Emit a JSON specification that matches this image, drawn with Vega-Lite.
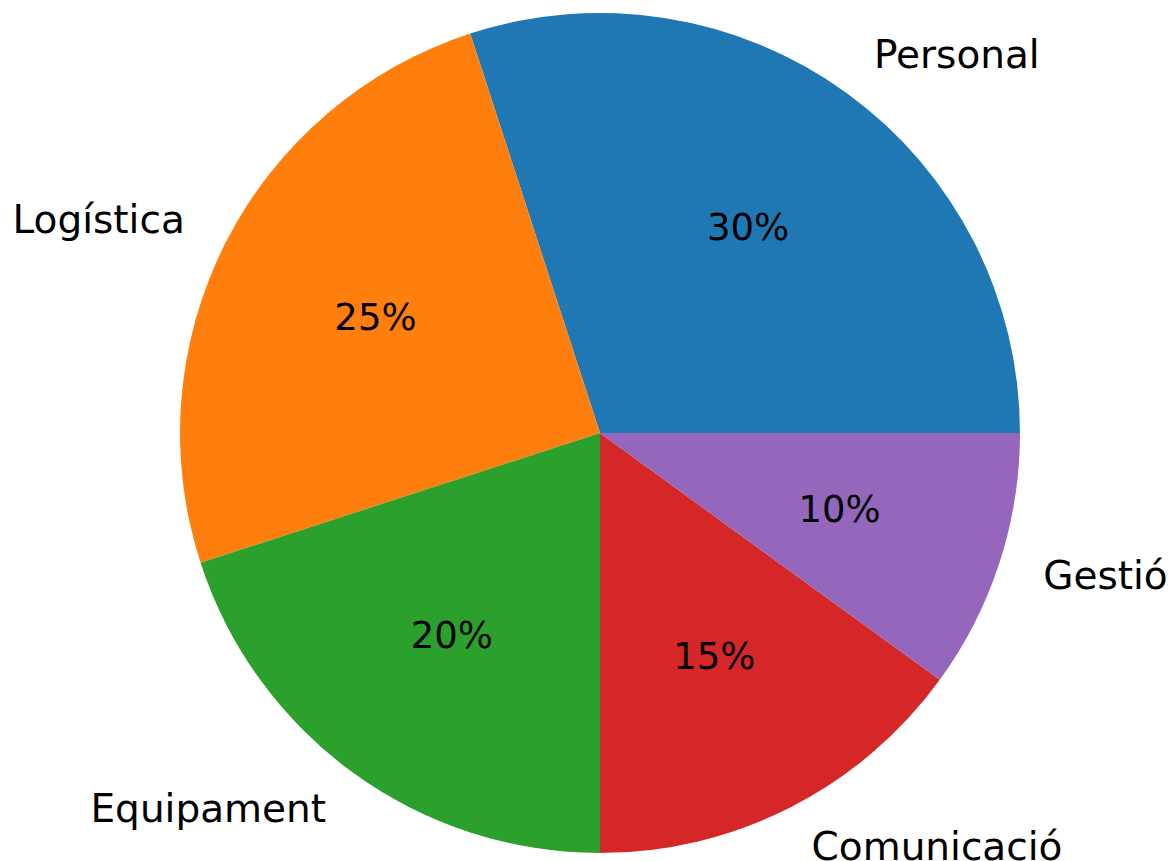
{
  "$schema": "https://vega.github.io/schema/vega-lite/v6.json",
  "width": 1152,
  "height": 856,
  "padding": {"left": 24, "top": 5, "right": 0, "bottom": 0},
  "autosize": {"type": "none"},
  "background": "white",
  "config": {"view": {"stroke": null}},
  "data": {
    "values": [
      {"category": "Personal", "value": 30, "pct": "30%", "order": 1},
      {"category": "Logística", "value": 25, "pct": "25%", "order": 2},
      {"category": "Equipament", "value": 20, "pct": "20%", "order": 3},
      {"category": "Comunicació", "value": 15, "pct": "15%", "order": 4},
      {"category": "Gestió", "value": 10, "pct": "10%", "order": 5}
    ]
  },
  "encoding": {
    "theta": {"field": "value", "type": "quantitative", "stack": true, "scale": {"range": [1.5707963, -4.712389]}},
    "order": {"field": "order", "type": "quantitative"}
  },
  "layer": [
    {
      "mark": {"type": "arc", "outerRadius": 420, "innerRadius": 0},
      "encoding": {
        "color": {
          "field": "category",
          "type": "nominal",
          "legend": null,
          "scale": {
            "domain": ["Personal", "Logística", "Equipament", "Comunicació", "Gestió"],
            "range": ["#1f77b4", "#ff7f0e", "#2ca02c", "#d62728", "#9467bd"]
          }
        }
      }
    },
    {
      "mark": {"type": "text", "radius": 252, "align": "center", "baseline": "middle", "font": "DejaVu Sans", "fontSize": 37, "color": "#000000"},
      "encoding": {"text": {"field": "pct", "type": "nominal"}}
    },
    {
      "mark": {"type": "text", "radius": 466, "align": "left", "baseline": "middle", "font": "DejaVu Sans", "fontSize": 39, "color": "#000000"},
      "encoding": {"text": {"condition": {"test": "indexof(['Personal','Comunicació','Gestió'], datum.category) >= 0", "field": "category", "type": "nominal"}, "value": ""}}
    },
    {
      "mark": {"type": "text", "radius": 466, "align": "right", "baseline": "middle", "font": "DejaVu Sans", "fontSize": 39, "color": "#000000"},
      "encoding": {"text": {"condition": {"test": "indexof(['Logística','Equipament'], datum.category) >= 0", "field": "category", "type": "nominal"}, "value": ""}}
    }
  ]
}
